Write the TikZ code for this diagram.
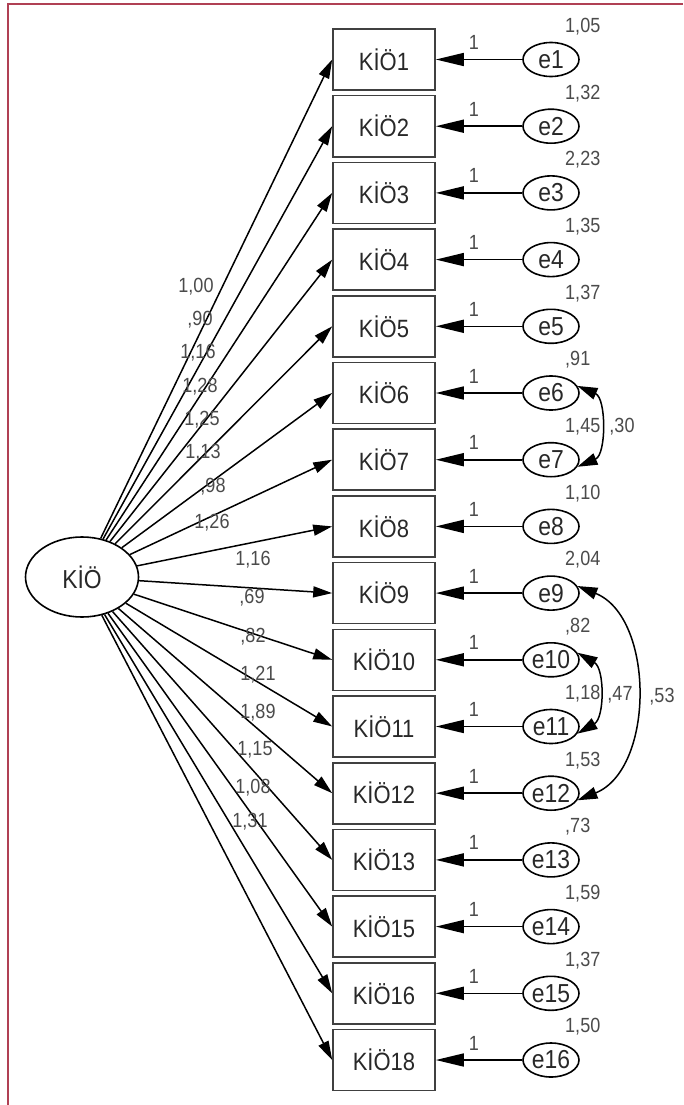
\documentclass[tikz,border=0pt]{standalone}
\usepackage{fontspec}
\setmainfont{Liberation Sans}
\newfontfamily\tallfont[FakeStretch=0.88]{Liberation Sans}
\usetikzlibrary{arrows.meta,shapes.geometric}
\definecolor{frame}{RGB}{176,64,84}
\definecolor{txt}{RGB}{40,40,40}
\definecolor{num}{RGB}{75,75,75}
\begin{document}
\begin{tikzpicture}[x=1pt,y=-1pt,
 obs/.style={draw=black!75, line width=1.6pt, minimum width=102pt, minimum height=61pt, inner sep=0pt, font=\tallfont\fontsize{25}{27}\selectfont, text=txt},
 err/.style={ellipse, draw, line width=1.6pt, minimum width=56pt, minimum height=34pt, inner sep=0pt, font=\tallfont\fontsize{26}{28}\selectfont, text=txt},
 lat/.style={ellipse, draw, line width=1.6pt, minimum width=113pt, minimum height=80pt, inner sep=0pt, font=\tallfont\fontsize{26}{28}\selectfont, text=txt},
 load/.style={-{Triangle[length=19pt,width=11pt]}, line width=1.5pt},
 earr/.style={-{Triangle[length=28pt,width=13pt]}, line width=1.6pt},
 cov/.style={{Triangle[length=20pt,width=12pt]}-{Triangle[length=20pt,width=12pt]}, line width=1.5pt},
 lbl/.style={font=\tallfont\fontsize{20.5}{22}\selectfont, text=num, inner sep=0pt}]
\useasboundingbox (0,0) rectangle (683,1105);
\fill[white] (0,0) rectangle (683,1105);
\coordinate (fa) at (8,1105);
\coordinate (fb) at (8,4);
\coordinate (fc) at (683,4);
\draw[frame, line width=2pt] (fa) -- (fb) -- (fc);

\node[lat] (L) at (82,577) {KİÖ};

\foreach \n [count=\i] in {1,2,3,4,5,6,7,8,9,10,11,12,13,15,16,18} {
  \node[obs] (b\i) at (384,{59.5+66.7*(\i-1)}) {KİÖ\n};
  \node[err] (e\i) at (551,{59.5+66.7*(\i-1)}) {e\i};
  \draw[earr] (e\i) -- (b\i);
  \node[lbl] (one\i) at (474,{42.5+66.7*(\i-1)}) {1};
  \draw[load] (L) -- (b\i.west);
}

\foreach \v [count=\i] in {{1,05},{1,32},{2,23},{1,35},{1,37},{,91},{1,45},{1,10},{2,04},{,82},{1,18},{1,53},{,73},{1,59},{1,37},{1,50}} {
  \node[lbl, anchor=west] (var\i) at (565,{26.5+66.7*(\i-1)}) {\v};
}

\foreach \v/\x/\y [count=\i] in {{1,00}/196/287,{,90}/200/320,{1,16}/198/353,{1,28}/200/387,{1,25}/202/420,{1,13}/203/453,{,98}/213/487,{1,26}/212/523,{1,16}/253/560,{,69}/252/598,{,82}/253/637,{1,21}/258/675,{1,89}/258/713,{1,15}/255/750,{1,08}/253/788,{1,31}/250/822} {
  \node[lbl] (ld\i) at (\x,\y) {\v};
}

\draw[cov] (e6.15) to[bend left=67] (e7.-15);
\draw[cov] (e10.15) to[bend left=60] (e11.-15);
\draw[cov] (e9.15) to[bend left=68] (e12.-15);
\node[lbl] (c67) at (622,427) {,30};
\node[lbl] (c1011) at (620,695) {,47};
\node[lbl] (c912) at (662,697) {,53};
\end{tikzpicture}
\end{document}
